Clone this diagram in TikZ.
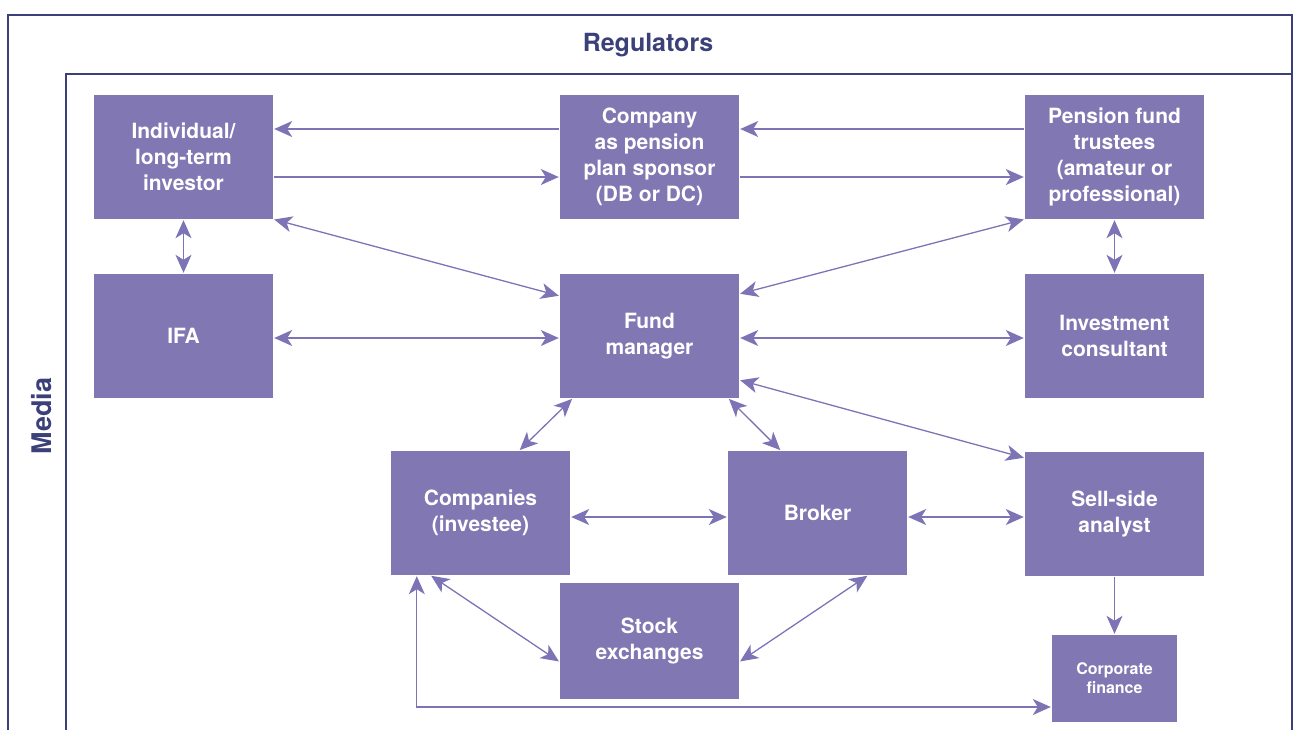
\documentclass[tikz,border=0pt]{standalone}
\usepackage{fontspec}
\setmainfont{TeX Gyre Heros}
\usetikzlibrary{arrows.meta}

\definecolor{boxfill}{HTML}{8077B3}
\definecolor{framecol}{HTML}{3B4079}
\definecolor{linkcol}{HTML}{7D74B5}

\begin{document}
\begin{tikzpicture}[x=1pt, y=-1pt]
	\tikzstyle{actor} = [rectangle, minimum width=179pt, minimum height=124pt, inner sep=0pt, fill=boxfill, text=white, align=center, font=\fontsize{21}{26}\selectfont\bfseries]
	\tikzstyle{small} = [actor, minimum width=125pt, minimum height=87pt, font=\fontsize{16}{19}\selectfont\bfseries]
	\tikzstyle{frame} = [draw=framecol, line width=1.3pt]
	\tikzstyle{arrow} = [draw=linkcol, line width=1.3pt, -{Stealth[length=18pt, width=16pt, inset=5pt]}, shorten >=1pt, shorten <=1pt]
	\tikzstyle{biarrow} = [arrow, {Stealth[length=18pt, width=16pt, inset=5pt]}-{Stealth[length=18pt, width=16pt, inset=5pt]}]
	\useasboundingbox (0,0) rectangle (1299,729);
	% frames
	\draw [frame] (8,15) rectangle (1292,760);
	\draw [frame] (66,74) rectangle (1292,760);
	\node (regulators) [text=framecol, font=\fontsize{25}{28}\selectfont\bfseries] at (648,45) {Regulators};
	\node (media) [text=framecol, rotate=90, font=\fontsize{27}{30}\selectfont\bfseries] at (42,416) {Media};
	% boxes
	\node (investor) [actor] at (183.5,157) {Individual/\\long-term\\investor};
	\node (sponsor) [actor] at (649.5,157) {Company\\as pension\\plan sponsor\\(DB or DC)};
	\node (trustees) [actor] at (1114.5,157) {Pension fund\\trustees\\(amateur or\\professional)};
	\node (ifa) [actor] at (183.5,336) {IFA};
	\node (fundManager) [actor] at (649.5,336) {Fund\\manager};
	\node (consultant) [actor] at (1114.5,336) {Investment\\consultant};
	\node (investee) [actor] at (480.5,513) {Companies\\(investee)};
	\node (broker) [actor] at (817.5,513) {Broker};
	\node (analyst) [actor] at (1114.5,514) {Sell-side\\analyst};
	\node (exchanges) [actor, minimum height=116pt] at (649.5,641) {Stock\\exchanges};
	\node (corpFinance) [small] at (1114.5,678.5) {Corporate\\finance};
	% links
	\draw [arrow] ([yshift=28pt]sponsor.west) -- ([yshift=28pt]investor.east);
	\draw [arrow] ([yshift=-20pt]investor.east) -- ([yshift=-20pt]sponsor.west);
	\draw [arrow] ([yshift=28pt]trustees.west) -- ([yshift=28pt]sponsor.east);
	\draw [arrow] ([yshift=-20pt]sponsor.east) -- ([yshift=-20pt]trustees.west);
	\draw [biarrow] (investor.south) -- (ifa.north);
	\draw [biarrow] (trustees.south) -- (consultant.north);
	\draw [biarrow] (investor.south east) -- ([yshift=40pt]fundManager.west);
	\draw [biarrow] (trustees.south west) -- ([yshift=42pt]fundManager.east);
	\draw [biarrow] ([yshift=-2pt]ifa.east) -- ([yshift=-2pt]fundManager.west);
	\draw [biarrow] ([yshift=-2pt]fundManager.east) -- ([yshift=-2pt]consultant.west);
	\draw [biarrow] ([xshift=13pt]fundManager.south west) -- ([xshift=38.5pt]investee.north);
	\draw [biarrow] ([xshift=-11pt]fundManager.south east) -- ([xshift=-36.5pt]broker.north);
	\draw [biarrow] ([yshift=-44pt]fundManager.east) -- ([yshift=56pt]analyst.west);
	\draw [biarrow] ([yshift=-4pt]investee.east) -- ([yshift=-4pt]broker.west);
	\draw [biarrow] ([yshift=-4pt]broker.east) -- ([yshift=-3pt]analyst.west);
	\draw [biarrow] ([xshift=39.5pt]investee.south west) -- ([yshift=-21pt]exchanges.west);
	\draw [biarrow] ([xshift=-39pt]broker.south east) -- ([yshift=-21pt]exchanges.east);
	\draw [arrow] (analyst.south) -- (corpFinance.north);
	\draw [biarrow] ([yshift=-28.5pt]corpFinance.west) -| ([xshift=26pt]investee.south west);
\end{tikzpicture}
\end{document}
